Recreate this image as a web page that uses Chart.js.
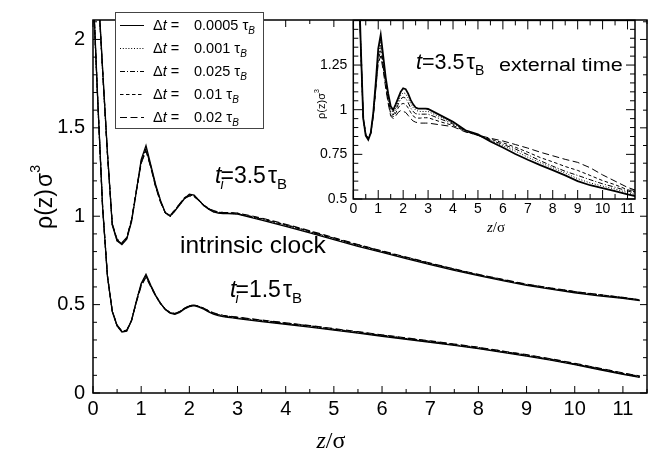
<!DOCTYPE html>
<html>
<head>
<meta charset="utf-8">
<script src="https://cdn.jsdelivr.net/npm/chart.js@4.4.1/dist/chart.umd.min.js"></script>
<style>
  html, body { margin: 0; padding: 0; background: #fff; }
  #wrap { position: relative; width: 664px; height: 459px; }
  #main { position: absolute; left: 0; top: 0; }
  #inset { position: absolute; left: 292px; top: 6px; }
</style>
</head>
<body>
<div id="wrap">
  <canvas id="main" width="664" height="459"></canvas>
  <canvas id="inset" width="360" height="236"></canvas>
</div>
<script>
// z / sigma grid shared by every curve
const zGrid = [0, 0.1, 0.2, 0.3, 0.4, 0.5, 0.6, 0.7, 0.8, 0.9,
  1.0, 1.1, 1.2, 1.3, 1.4, 1.5, 1.6, 1.7, 1.8, 1.9,
  2.0, 2.1, 2.2, 2.3, 2.4, 2.5, 2.6, 2.7, 2.8, 2.9,
  3.0, 3.5, 4, 4.5, 5, 5.5, 6, 6.5, 7, 7.5,
  8, 8.5, 9, 9.5, 10, 10.5, 11, 11.35];

const dtLabels = ['0.0005', '0.001', '0.025', '0.01', '0.02'];

// intrinsic clock, t_i = 3.5 tau_B
const intr35_a = [2.80, 2.32, 1.83, 1.36, 0.95, 0.86, 0.84, 0.87, 0.97, 1.14,
  1.32, 1.40, 1.29, 1.18, 1.09, 1.02, 1.00, 1.03, 1.065, 1.10,
  1.125, 1.12, 1.09, 1.06, 1.04, 1.025, 1.018, 1.015, 1.015, 1.014,
  1.012, 0.978, 0.942, 0.906, 0.868, 0.830, 0.795, 0.760, 0.726, 0.694,
  0.664, 0.636, 0.609, 0.587, 0.567, 0.550, 0.535, 0.523];
const intr35_b = [2.79, 2.31, 1.82, 1.35, 0.95, 0.86, 0.845, 0.875, 0.975, 1.14,
  1.31, 1.385, 1.285, 1.175, 1.09, 1.02, 1.00, 1.03, 1.065, 1.10,
  1.12, 1.115, 1.09, 1.06, 1.04, 1.025, 1.02, 1.016, 1.015, 1.015,
  1.013, 0.982, 0.946, 0.910, 0.872, 0.834, 0.798, 0.764, 0.730, 0.698,
  0.667, 0.639, 0.612, 0.590, 0.570, 0.553, 0.537, 0.525];
const intr35_c = [2.78, 2.30, 1.82, 1.35, 0.955, 0.865, 0.845, 0.875, 0.98, 1.15,
  1.31, 1.38, 1.28, 1.17, 1.085, 1.02, 1.00, 1.03, 1.07, 1.10,
  1.12, 1.115, 1.09, 1.06, 1.042, 1.028, 1.02, 1.018, 1.017, 1.016,
  1.014, 0.984, 0.950, 0.913, 0.874, 0.836, 0.801, 0.766, 0.732, 0.699,
  0.668, 0.640, 0.613, 0.592, 0.572, 0.555, 0.539, 0.526];
const intr35_d = [2.80, 2.31, 1.83, 1.36, 0.955, 0.865, 0.845, 0.875, 0.975, 1.14,
  1.30, 1.375, 1.28, 1.17, 1.085, 1.02, 1.005, 1.035, 1.07, 1.105,
  1.12, 1.115, 1.09, 1.062, 1.043, 1.03, 1.022, 1.02, 1.02, 1.018,
  1.016, 0.987, 0.952, 0.915, 0.876, 0.838, 0.802, 0.767, 0.733, 0.700,
  0.669, 0.641, 0.614, 0.593, 0.573, 0.556, 0.540, 0.527];
const intr35_e = [2.79, 2.30, 1.82, 1.35, 0.96, 0.87, 0.85, 0.88, 0.98, 1.14,
  1.30, 1.37, 1.275, 1.165, 1.08, 1.02, 1.005, 1.035, 1.07, 1.10,
  1.115, 1.11, 1.088, 1.062, 1.045, 1.032, 1.024, 1.022, 1.021, 1.02,
  1.018, 0.990, 0.955, 0.918, 0.879, 0.840, 0.804, 0.769, 0.735, 0.702,
  0.671, 0.643, 0.616, 0.594, 0.574, 0.557, 0.541, 0.528];

// intrinsic clock, t_i = 1.5 tau_B
const intr15_a = [2.30, 1.65, 1.05, 0.66, 0.46, 0.38, 0.345, 0.35, 0.41, 0.52,
  0.62, 0.672, 0.61, 0.553, 0.508, 0.472, 0.452, 0.445, 0.456, 0.475,
  0.489, 0.494, 0.486, 0.474, 0.459, 0.446, 0.438, 0.432, 0.428, 0.425,
  0.421, 0.404, 0.389, 0.373, 0.356, 0.339, 0.321, 0.304, 0.287, 0.269,
  0.251, 0.230, 0.209, 0.186, 0.160, 0.133, 0.106, 0.088];
const intr15_b = [2.29, 1.64, 1.05, 0.66, 0.46, 0.38, 0.347, 0.352, 0.41, 0.52,
  0.615, 0.665, 0.607, 0.552, 0.508, 0.473, 0.453, 0.447, 0.458, 0.477,
  0.491, 0.495, 0.488, 0.476, 0.461, 0.448, 0.44, 0.434, 0.43, 0.427,
  0.423, 0.407, 0.391, 0.376, 0.358, 0.341, 0.323, 0.306, 0.289, 0.271,
  0.253, 0.232, 0.211, 0.188, 0.162, 0.135, 0.108, 0.09];
const intr15_c = [2.28, 1.64, 1.04, 0.66, 0.462, 0.382, 0.348, 0.353, 0.412, 0.518,
  0.612, 0.662, 0.605, 0.55, 0.507, 0.473, 0.454, 0.448, 0.46, 0.478,
  0.492, 0.496, 0.489, 0.477, 0.463, 0.45, 0.442, 0.436, 0.432, 0.429,
  0.425, 0.409, 0.393, 0.378, 0.36, 0.343, 0.325, 0.308, 0.291, 0.273,
  0.255, 0.234, 0.213, 0.19, 0.164, 0.137, 0.11, 0.092];
const intr15_d = [2.29, 1.65, 1.05, 0.665, 0.463, 0.383, 0.349, 0.354, 0.41, 0.515,
  0.61, 0.66, 0.604, 0.55, 0.507, 0.474, 0.455, 0.449, 0.461, 0.479,
  0.493, 0.497, 0.49, 0.479, 0.465, 0.452, 0.444, 0.438, 0.434, 0.431,
  0.427, 0.411, 0.395, 0.38, 0.362, 0.345, 0.327, 0.31, 0.293, 0.275,
  0.257, 0.236, 0.215, 0.192, 0.166, 0.139, 0.112, 0.094];
const intr15_e = [2.28, 1.64, 1.05, 0.665, 0.465, 0.385, 0.35, 0.356, 0.41, 0.512,
  0.605, 0.655, 0.6, 0.548, 0.506, 0.474, 0.456, 0.45, 0.462, 0.48,
  0.494, 0.498, 0.491, 0.48, 0.466, 0.454, 0.446, 0.44, 0.436, 0.433,
  0.429, 0.413, 0.397, 0.382, 0.364, 0.347, 0.329, 0.312, 0.295, 0.277,
  0.259, 0.238, 0.217, 0.194, 0.168, 0.141, 0.114, 0.096];

// external time, t = 3.5 tau_B (inset)
const ext35_a = [2.80, 2.32, 1.83, 1.36, 0.95, 0.855, 0.832, 0.87, 0.98, 1.15,
  1.34, 1.42, 1.30, 1.18, 1.09, 1.02, 0.998, 1.03, 1.065, 1.10,
  1.12, 1.115, 1.09, 1.055, 1.03, 1.012, 1.006, 1.006, 1.006, 1.006,
  1.004, 0.968, 0.932, 0.885, 0.862, 0.822, 0.788, 0.752, 0.720, 0.690,
  0.662, 0.632, 0.600, 0.577, 0.561, 0.544, 0.526, 0.515];
const ext35_b = [2.78, 2.30, 1.82, 1.35, 0.95, 0.855, 0.835, 0.87, 0.975, 1.14,
  1.32, 1.39, 1.28, 1.165, 1.075, 1.005, 0.985, 1.01, 1.045, 1.08,
  1.095, 1.09, 1.065, 1.035, 1.012, 0.998, 0.992, 0.99, 0.99, 0.99,
  0.99, 0.958, 0.925, 0.882, 0.858, 0.827, 0.798, 0.768, 0.734, 0.703,
  0.675, 0.645, 0.614, 0.590, 0.572, 0.556, 0.536, 0.524];
const ext35_c = [2.77, 2.29, 1.81, 1.35, 0.952, 0.858, 0.838, 0.87, 0.97, 1.13,
  1.30, 1.36, 1.26, 1.15, 1.06, 0.99, 0.97, 0.995, 1.03, 1.06,
  1.07, 1.065, 1.04, 1.01, 0.99, 0.978, 0.975, 0.975, 0.975, 0.975,
  0.975, 0.948, 0.92, 0.88, 0.856, 0.83, 0.806, 0.78, 0.748, 0.714,
  0.684, 0.655, 0.632, 0.608, 0.585, 0.566, 0.545, 0.532];
const ext35_d = [2.76, 2.28, 1.80, 1.34, 0.952, 0.86, 0.84, 0.868, 0.965, 1.12,
  1.28, 1.33, 1.24, 1.135, 1.045, 0.975, 0.96, 0.98, 1.01, 1.03,
  1.035, 1.03, 1.01, 0.985, 0.965, 0.955, 0.953, 0.953, 0.955, 0.955,
  0.955, 0.932, 0.912, 0.878, 0.856, 0.835, 0.815, 0.79, 0.762, 0.732,
  0.708, 0.682, 0.66, 0.632, 0.603, 0.58, 0.552, 0.538];
const ext35_e = [2.75, 2.27, 1.80, 1.34, 0.955, 0.862, 0.842, 0.868, 0.96, 1.11,
  1.26, 1.30, 1.22, 1.12, 1.035, 0.965, 0.95, 0.965, 0.985, 0.995,
  0.99, 0.985, 0.968, 0.95, 0.937, 0.93, 0.927, 0.925, 0.925, 0.925,
  0.925, 0.915, 0.905, 0.875, 0.858, 0.84, 0.825, 0.805, 0.785, 0.762,
  0.742, 0.722, 0.705, 0.675, 0.635, 0.60, 0.565, 0.548];

// tick labels
const mainXTicks = [0, 1, 2, 3, 4, 5, 6, 7, 8, 9, 10, 11];
const mainYTicks = [0, 0.5, 1, 1.5, 2];
const insetXTicks = [0, 1, 2, 3, 4, 5, 6, 7, 8, 9, 10, 11];
const insetYTicks = [0.5, 0.75, 1, 1.25];

const SANS = "'Liberation Sans', Arial, Helvetica, sans-serif";
const SERIF = "'Liberation Serif', 'Times New Roman', serif";
const dashes = [[], [1, 1.8], [5, 2, 1, 2], [3.5, 2.5], [7, 3.5]];

function series(vals) {
  return zGrid.map((z, i) => ({ x: z, y: vals[i] }));
}

function makeSets(groups, width, solidWidth) {
  const out = [];
  groups.forEach(g => g.forEach((vals, i) => out.push({
    data: series(vals),
    showLine: true,
    borderColor: '#000',
    borderWidth: i === 0 ? solidWidth : width,
    borderDash: dashes[i],
    pointRadius: 0,
    tension: 0
  })));
  return out;
}

// draw a run of text pieces (font, text, baseline shift) starting at x
function drawParts(ctx, x, y, parts) {
  let cx = x;
  parts.forEach(p => {
    ctx.font = p.f;
    ctx.fillText(p.t, cx, y + (p.dy || 0));
    cx += ctx.measureText(p.t).width + (p.k || 0);
  });
}
function partsWidth(ctx, parts) {
  let w = 0;
  parts.forEach(p => { ctx.font = p.f; w += ctx.measureText(p.t).width + (p.k || 0); });
  return w;
}

const frameTicks = {
  id: 'frameTicks',
  beforeDatasetsDraw(chart, args, o) {
    if (!o.whiteBg) return;
    const a = chart.chartArea;
    chart.ctx.save();
    chart.ctx.fillStyle = '#fff';
    chart.ctx.fillRect(a.left, a.top, a.right - a.left, a.bottom - a.top);
    chart.ctx.restore();
  },
  afterDatasetsDraw(chart, args, o) {
    const { ctx, chartArea: a, scales: { x, y } } = chart;
    ctx.save();
    ctx.strokeStyle = '#000';
    ctx.lineWidth = o.tickWidth;
    ctx.setLineDash([]);
    ctx.beginPath();
    for (let k = 0; x.min + k * o.xMinor <= x.max + 1e-9; k++) {
      const px = x.getPixelForValue(x.min + k * o.xMinor);
      const len = k % o.xEvery === 0 ? o.major : o.minor;
      ctx.moveTo(px, a.bottom); ctx.lineTo(px, a.bottom - len);
      ctx.moveTo(px, a.top); ctx.lineTo(px, a.top + len);
    }
    for (let k = 0; y.min + k * o.yMinor <= y.max + 1e-9; k++) {
      const py = y.getPixelForValue(y.min + k * o.yMinor);
      const len = k % o.yEvery === 0 ? o.major : o.minor;
      ctx.moveTo(a.left, py); ctx.lineTo(a.left + len, py);
      ctx.moveTo(a.right, py); ctx.lineTo(a.right - len, py);
    }
    ctx.stroke();
    ctx.lineWidth = o.frameWidth;
    ctx.strokeRect(a.left, a.top, a.right - a.left, a.bottom - a.top);
    ctx.restore();
  }
};

const textLayer = {
  id: 'textLayer',
  afterDraw(chart, args, o) {
    const ctx = chart.ctx;
    ctx.save();
    ctx.fillStyle = '#000';
    ctx.textBaseline = 'alphabetic';
    o.items.forEach(it => {
      ctx.save();
      ctx.translate(it.x, it.y);
      if (it.rotate) ctx.rotate(-Math.PI / 2);
      if (it.sx) ctx.scale(it.sx, 1);
      const x0 = it.center ? -partsWidth(ctx, it.parts) / 2 : 0;
      drawParts(ctx, x0, 0, it.parts);
      ctx.restore();
    });
    ctx.restore();
  }
};

const legendBox = {
  id: 'legendBox',
  afterDraw(chart, args, o) {
    if (!o.show) return;
    const ctx = chart.ctx;
    ctx.save();
    ctx.fillStyle = '#fff';
    ctx.fillRect(o.x, o.y, o.w, o.h);
    ctx.strokeStyle = '#444';
    ctx.lineWidth = 1;
    ctx.strokeRect(o.x + 0.5, o.y + 0.5, o.w, o.h);
    ctx.fillStyle = '#000';
    dtLabels.forEach((lab, i) => {
      const ds = chart.data.datasets[i];
      const yy = o.y + o.first + i * o.gap;
      ctx.strokeStyle = '#000';
      ctx.lineWidth = 1;
      ctx.setLineDash(ds.borderDash);
      ctx.beginPath();
      ctx.moveTo(o.x + 5, yy + 0.5);
      ctx.lineTo(o.x + 29, yy + 0.5);
      ctx.stroke();
      ctx.setLineDash([]);
      drawParts(ctx, o.x + 38, yy + 5, [
        { f: '14.5px ' + SANS, t: '\u0394' },
        { f: 'italic 14.5px ' + SANS, t: 't' },
        { f: '14.5px ' + SANS, t: ' =' }
      ]);
      drawParts(ctx, o.x + 79, yy + 5, [
        { f: '14.5px ' + SANS, t: lab + ' ' },
        { f: '15px ' + SANS, t: '\u03c4' },
        { f: 'italic 10px ' + SANS, t: 'B', dy: 4 }
      ]);
    });
    ctx.restore();
  }
};

Chart.register(frameTicks, textLayer, legendBox);

const tickFont = size => ({ family: SANS, size: size });

new Chart(document.getElementById('main'), {
  type: 'scatter',
  data: { datasets: makeSets([[intr35_a, intr35_b, intr35_c, intr35_d, intr35_e],
                              [intr15_a, intr15_b, intr15_c, intr15_d, intr15_e]], 1.1, 1.3) },
  options: {
    responsive: false,
    animation: false,
    events: [],
    layout: { padding: { left: 0, top: 6, right: 17, bottom: 0 } },
    scales: {
      x: {
        type: 'linear', min: 0, max: 11.5,
        grid: { display: false, drawTicks: false },
        border: { display: false },
        afterBuildTicks: s => { s.ticks = mainXTicks.map(v => ({ value: v })); },
        afterFit: s => { s.height = 66; },
        ticks: { color: '#000', font: tickFont(20), padding: 4, maxRotation: 0, autoSkip: false,
                 callback: v => String(v) }
      },
      y: {
        type: 'linear', min: 0, max: 2.11,
        grid: { display: false, drawTicks: false },
        border: { display: false },
        afterBuildTicks: s => { s.ticks = mainYTicks.map(v => ({ value: v })); },
        afterFit: s => { s.width = 93; },
        ticks: { color: '#000', font: tickFont(20), padding: 8, callback: v => String(v) }
      }
    },
    plugins: {
      legend: { display: false },
      tooltip: { enabled: false },
      frameTicks: { xMinor: 0.5, xEvery: 2, yMinor: 0.1, yEvery: 5, major: 7, minor: 4,
                    tickWidth: 1, frameWidth: 1.5, whiteBg: false },
      legendBox: { show: true, x: 115, y: 12, w: 148, h: 116, first: 13, gap: 23 },
      textLayer: {
        items: [
          { x: 52, y: 197, rotate: true, center: true, parts: [
            { f: '23px ' + SANS, t: '\u03c1(z)', k: 2 },
            { f: '23px ' + SANS, t: '\u03c3' },
            { f: '14px ' + SANS, t: '3', dy: -12 }] },
          { x: 331, y: 448, center: true, parts: [
            { f: 'italic 24px ' + SERIF, t: 'z' },
            { f: '24px ' + SERIF, t: '/\u03c3' }] },
          { x: 215, y: 183, parts: [
            { f: 'italic 23px ' + SANS, t: 't', k: -1 },
            { f: 'italic 14px ' + SANS, t: 'i', dy: 6, k: -3 },
            { f: '23px ' + SANS, t: '=3.5', k: 2 },
            { f: '23px ' + SANS, t: '\u03c4' },
            { f: '15px ' + SANS, t: 'B', dy: 6 }] },
          { x: 180, y: 253, parts: [{ f: '24.5px ' + SANS, t: 'intrinsic clock' }] },
          { x: 230, y: 297, parts: [
            { f: 'italic 23px ' + SANS, t: 't', k: -1 },
            { f: 'italic 14px ' + SANS, t: 'i', dy: 6, k: -3 },
            { f: '23px ' + SANS, t: '=1.5', k: 2 },
            { f: '23px ' + SANS, t: '\u03c4' },
            { f: '15px ' + SANS, t: 'B', dy: 6 }] }
        ]
      }
    }
  }
});

new Chart(document.getElementById('inset'), {
  type: 'scatter',
  data: { datasets: makeSets([[ext35_a, ext35_b, ext35_c, ext35_d, ext35_e]], 1.0, 1.8) },
  options: {
    responsive: false,
    animation: false,
    events: [],
    layout: { padding: { left: 0, top: 10.7, right: 17, bottom: 0 } },
    scales: {
      x: {
        type: 'linear', min: 0, max: 11.3,
        grid: { display: false, drawTicks: false },
        border: { display: false },
        afterBuildTicks: s => { s.ticks = insetXTicks.map(v => ({ value: v })); },
        afterFit: s => { s.height = 43; },
        ticks: { color: '#000', font: tickFont(14), padding: 2, maxRotation: 0, autoSkip: false,
                 callback: v => String(v) }
      },
      y: {
        type: 'linear', min: 0.5, max: 1.5,
        grid: { display: false, drawTicks: false },
        border: { display: false },
        afterBuildTicks: s => { s.ticks = insetYTicks.map(v => ({ value: v })); },
        afterFit: s => { s.width = 61.3; },
        ticks: { color: '#000', font: tickFont(14), padding: 6, callback: v => String(v) }
      }
    },
    plugins: {
      legend: { display: false },
      tooltip: { enabled: false },
      frameTicks: { xMinor: 0.5, xEvery: 2, yMinor: 0.05, yEvery: 5, major: 9, minor: 5,
                    tickWidth: 1, frameWidth: 1.5, whiteBg: true },
      legendBox: { show: false },
      textLayer: {
        items: [
          { x: 33, y: 98, rotate: true, center: true, parts: [
            { f: '11px ' + SANS, t: '\u03c1(z)\u03c3' },
            { f: '7px ' + SANS, t: '3', dy: -6 }] },
          { x: 204, y: 226, center: true, parts: [
            { f: 'italic 15px ' + SERIF, t: 'z' },
            { f: '15px ' + SERIF, t: '/\u03c3' }] },
          { x: 124, y: 63, parts: [
            { f: 'italic 21.5px ' + SANS, t: 't' },
            { f: '21.5px ' + SANS, t: '=3.5', k: 2 },
            { f: '21.5px ' + SANS, t: '\u03c4' },
            { f: '14px ' + SANS, t: 'B', dy: 6 }] },
          { x: 207, y: 65, sx: 1.2, parts: [{ f: '18px ' + SANS, t: 'external time' }] }
        ]
      }
    }
  }
});
</script>
</body>
</html>
